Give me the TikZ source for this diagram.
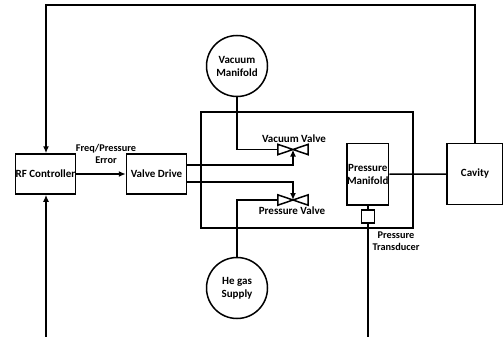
\documentclass[tikz,border=0pt]{standalone}
\usepackage{fontspec}
\setmainfont{Carlito}
\usetikzlibrary{arrows.meta,positioning,calc}
\tikzset{
  blockbox/.style={draw,line width=1.5pt,minimum width=60pt,minimum height=40pt,inner sep=0pt,align=center},
  supply/.style={draw,circle,line width=1.5pt,minimum size=61pt,inner sep=0pt,align=center},
  valve/.style={minimum width=30pt,minimum height=10pt,inner sep=0pt},
  label/.style={inner sep=0pt,align=center},
  note/.style={label,font=\fontsize{10.3pt}{12pt}\selectfont\bfseries},
  conn/.style={line width=1.5pt},
  flow/.style={conn,-{Latex[length=7pt,width=6pt]}},
  every node/.append style={font=\fontsize{11pt}{13pt}\selectfont\bfseries}
}
\begin{document}
\begin{tikzpicture}[x=1pt,y=-1pt]
  \useasboundingbox (0,0) rectangle (503,337);
  % outer box
  \draw[conn] (201,112) rectangle (413,228);
  % blocks
  \node[blockbox] (rf) at (45.5,174) {RF Controller};
  \node[blockbox] (drive) at (156.5,174) {Valve Drive};
  \node[blockbox,minimum width=56pt,minimum height=61pt] (cavity) at (475,174) {Cavity};
  \node[blockbox,minimum width=41.5pt,minimum height=61.5pt] (manifold) at (367.75,174.25) {};
  \node[label] (manifoldtext) at (manifold) {Pressure\\Manifold};
  \node[draw,line width=1.5pt,minimum size=13pt,inner sep=0pt] (transducer) at (368,216.5) {};
  \node[supply] (vacuum) at (237,66) {Vacuum\\Manifold};
  \node[supply] (helium) at (237,288) {He gas\\Supply};
  \node[valve] (vacvalve) at (293,149.5) {};
  \node[valve] (presvalve) at (293,200) {};
  % valves
  \draw[conn] (vacvalve.north west) -- (vacvalve.south east) -- (vacvalve.north east) -- (vacvalve.south west) -- cycle;
  \draw[conn] (presvalve.north west) -- (presvalve.south east) -- (presvalve.north east) -- (presvalve.south west) -- cycle;
  % free ends
  \coordinate (rfin) at (46,337);
  \coordinate (transout) at (368,337);
  \coordinate (toptrack) at (46,5);
  \coordinate (driveup) at (187,165);
  \coordinate (drivedown) at (187,182);
  % connectors
  \draw[flow] (cavity.north) |- (toptrack) -- (rf.north -| toptrack);
  \draw[flow] (rfin) -- (rf.south -| rfin);
  \draw[flow] (rf) -- (drive);
  \draw[flow] (driveup) -| (vacvalve.center);
  \draw[flow] (drivedown) -| (presvalve.center);
  \draw[conn] (vacuum) |- (vacvalve.west);
  \draw[conn] (helium) |- (presvalve.west);
  \draw[conn] (manifold.east) -- (cavity.west);
  \draw[conn] (manifold.south -| transducer) -- (transducer);
  \draw[conn] (transducer) -- (transout);
  % labels
  \node[note] (errorlabel) at (106,154) {Freq/Pressure\\Error};
  \node[label] (vaclabel) at (294,139) {Vacuum Valve};
  \node[label] (preslabel) at (292,211) {Pressure Valve};
  \node[note] (translabel) at (396,241.5) {Pressure\\Transducer};
\end{tikzpicture}
\end{document}
